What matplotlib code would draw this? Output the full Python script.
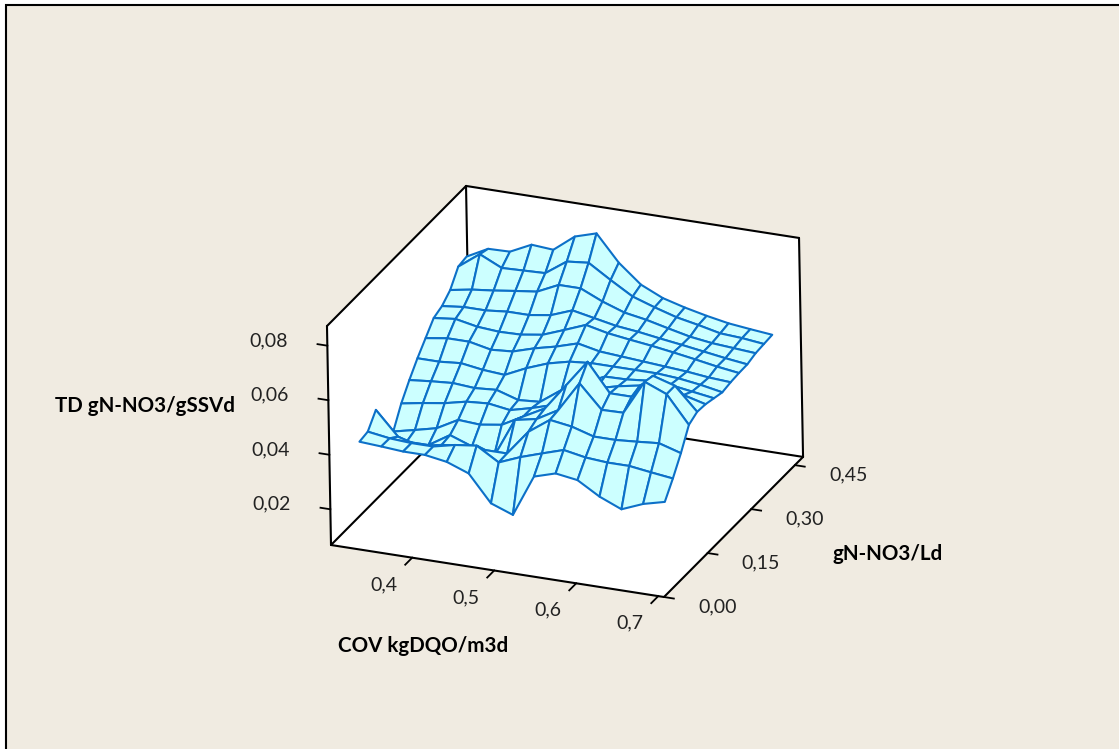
import numpy as np
import matplotlib
matplotlib.use("Agg")
import matplotlib.pyplot as plt
from matplotlib.patches import Rectangle
from mpl_toolkits.mplot3d import proj3d
from mpl_toolkits.mplot3d.art3d import Poly3DCollection

plt.rcParams["font.family"] = ["Lato", "DejaVu Sans"]

W, H = 1119, 749
BEIGE = "#F0EBE1"
MESH = "#0C70C8"
FACE = "#CCFFFF"
TICK_SIZE = 14
TITLE_SIZE = 14.8

# COV kgDQO/m3d and gN-NO3/Ld grids
cov = np.linspace(0.32, 0.692, 15)
load = np.linspace(0.05, 0.423, 14)

# TD values x 1000, front row (lowest load) first
td = np.array([
    [40.3, 39.8, 39.2, 39.2, 37.9, 34.9, 25.2, 22.2, 37.5, 39.9, 38.7, 33.9, 30.5, 33.7, 35.7],
    [40.9, 39.7, 39.2, 39.2, 41.0, 42.0, 37.1, 40.3, 42.9, 45.4, 43.9, 43.3, 43.3, 42.2, 41.2],
    [45.8, 37.2, 35.0, 36.7, 37.3, 37.3, 37.3, 46.5, 52.1, 50.9, 48.5, 48.5, 49.1, 49.8, 47.4],
    [34.8, 32.3, 32.3, 37.2, 34.3, 31.8, 46.5, 48.1, 52.6, 63.7, 55.2, 55.4, 68.0, 64.7, 54.7],
    [31.7, 33.5, 35.4, 39.7, 39.2, 40.4, 44.7, 48.9, 58.7, 68.5, 58.2, 58.2, 67.1, 64.7, 56.4],
    [38.9, 40.3, 41.5, 43.3, 43.9, 42.7, 44.7, 47.1, 53.8, 55.7, 57.7, 59.2, 59.4, 58.2, 56.1],
    [44.4, 45.2, 45.8, 45.2, 45.8, 43.3, 43.9, 49.5, 53.2, 56.9, 57.1, 57.9, 57.6, 56.4, 55.2],
    [49.3, 49.3, 50.0, 48.8, 48.2, 51.9, 54.9, 56.8, 57.5, 57.5, 57.5, 57.5, 56.9, 55.8, 54.3],
    [53.6, 54.8, 54.8, 53.1, 53.7, 56.1, 58.0, 60.4, 58.7, 58.1, 57.5, 56.9, 56.3, 55.4, 54.9],
    [57.9, 58.8, 57.2, 56.6, 56.8, 58.0, 61.0, 64.1, 62.3, 61.2, 60.2, 59.0, 57.7, 56.3, 55.2],
    [59.2, 60.1, 60.1, 60.9, 60.9, 62.1, 65.1, 63.5, 61.9, 61.0, 59.8, 58.7, 57.5, 56.3, 55.3],
    [62.0, 63.4, 64.3, 65.4, 66.4, 70.1, 70.1, 66.5, 63.7, 62.3, 60.4, 58.6, 57.5, 56.9, 56.3],
    [67.5, 73.3, 69.5, 69.8, 70.1, 75.6, 76.4, 71.3, 66.5, 63.8, 61.4, 59.8, 58.0, 57.5, 56.6],
    [68.1, 72.2, 72.4, 76.2, 75.6, 81.7, 84.1, 74.6, 67.8, 64.1, 61.9, 60.1, 58.6, 57.7, 56.9],
]) / 1000

x_ticks = [0.4, 0.5, 0.6, 0.7]
x_labels = ["0,4", "0,5", "0,6", "0,7"]
y_ticks = [0.0, 0.15, 0.30, 0.45]
y_labels = ["0,00", "0,15", "0,30", "0,45"]
z_ticks = [0.02, 0.04, 0.06, 0.08]
z_labels = ["0,02", "0,04", "0,06", "0,08"]

xmin, xmax = 0.301, 0.707
ymin, ymax = 0.0, 0.478
zmin, zmax = 0.0069, 0.0872

fig = plt.figure(figsize=(W / 100, H / 100), dpi=100, facecolor="white")
fig.add_artist(Rectangle((5.5, -10), W + 10, H - 5 + 10, transform=None,
                         facecolor=BEIGE, edgecolor="black", linewidth=1.5, zorder=-1))

ax = fig.add_axes([0.1, 0.1, 0.6, 0.6 * W / H], projection="3d")
ax.set_proj_type("ortho")
ax.view_init(elev=24.35, azim=-67.0, roll=1.05)
ax.set_box_aspect((360.7, 362.4, 240.4))
ax.set_xlim(xmin, xmax)
ax.set_ylim(ymin, ymax)
ax.set_zlim(zmin, zmax)
ax.set_axis_off()
ax.patch.set_alpha(0)
ax.computed_zorder = False


def to_px(x, y, z):
    px, py, _ = proj3d.proj_transform(x, y, z, ax.get_proj())
    return ax.transData.transform((px, py))


def tick_label(x, y, z, s):
    # plain figure text placed where the 3D point lands
    px, py = to_px(x, y, z)
    fig.text(px / W, py / H, s, fontsize=TICK_SIZE, color="#222222", ha="center", va="center")


# fit the box onto the frame position seen in the picture
fig.canvas.draw()
p0 = to_px(xmin, ymin, zmin)
p1 = to_px(xmax, ymin, zmin)
scale = 333.0 * np.hypot(1, 52 / 333) / np.hypot(*(p1 - p0))
pos = ax.get_position()
ax.set_position([pos.x0, pos.y0, pos.width * scale, pos.height * scale])
fig.canvas.draw()
p0 = to_px(xmin, ymin, zmin)
pos = ax.get_position()
ax.set_position([pos.x0 + (331 - p0[0]) / W, pos.y0 + (H - 545 - p0[1]) / H, pos.width, pos.height])
fig.canvas.draw()

floor = [(xmin, ymin, zmin), (xmax, ymin, zmin), (xmax, ymax, zmin), (xmin, ymax, zmin)]
back = [(xmin, ymax, zmin), (xmax, ymax, zmin), (xmax, ymax, zmax), (xmin, ymax, zmax)]
side = [(xmin, ymin, zmin), (xmin, ymax, zmin), (xmin, ymax, zmax), (xmin, ymin, zmax)]
ax.add_collection3d(Poly3DCollection([floor, back, side], facecolors="white",
                                     edgecolors="white", linewidths=0, zorder=1))

edges = [
    ((xmin, xmax), (ymin, ymin), (zmin, zmin)),
    ((xmax, xmax), (ymin, ymax), (zmin, zmin)),
    ((xmin, xmax), (ymax, ymax), (zmin, zmin)),
    ((xmin, xmin), (ymin, ymax), (zmin, zmin)),
    ((xmin, xmin), (ymin, ymin), (zmin, zmax)),
    ((xmin, xmin), (ymax, ymax), (zmin, zmax)),
    ((xmax, xmax), (ymax, ymax), (zmin, zmax)),
    ((xmin, xmin), (ymin, ymax), (zmax, zmax)),
    ((xmin, xmax), (ymax, ymax), (zmax, zmax)),
]
for ex, ey, ez in edges:
    ax.plot(ex, ey, ez, color="black", linewidth=1.5, zorder=2, solid_capstyle="round")

for t, lab in zip(x_ticks, x_labels):
    ax.plot((t, t), (ymin, ymin - 0.024), (zmin, zmin), color="black", linewidth=1.3, zorder=2)
    tick_label(t - 0.002, ymin - 0.093, zmin, lab)
for t, lab in zip(y_ticks, y_labels):
    ax.plot((xmax, xmax + 0.012), (t, t), (zmin, zmin), color="black", linewidth=1.3, zorder=2)
    tick_label(xmax + 0.065, t, zmin - 0.0005, lab)
for t, lab in zip(z_ticks, z_labels):
    ax.plot((xmin, xmin - 0.012), (ymin, ymin), (t, t), color="black", linewidth=1.3, zorder=2)
    tick_label(xmin - 0.0715, ymin, t - 0.0015, lab)

gx, gy = np.meshgrid(cov, load)
ax.plot_surface(gx, gy, td, rstride=1, cstride=1, color=FACE, edgecolor=MESH,
                linewidth=1.5, shade=False, antialiased=True, zorder=3)

fig.text(145 / W, 1 - 406 / H, "TD gN-NO3/gSSVd", fontsize=TITLE_SIZE, fontweight="bold", ha="center", va="center")
fig.text(423 / W, 1 - 646 / H, "COV kgDQO/m3d", fontsize=TITLE_SIZE, fontweight="bold", ha="center", va="center")
fig.text(888 / W, 1 - 554 / H, "gN-NO3/Ld", fontsize=TITLE_SIZE, fontweight="bold", ha="center", va="center")

fig.savefig("out.png", dpi=100)
